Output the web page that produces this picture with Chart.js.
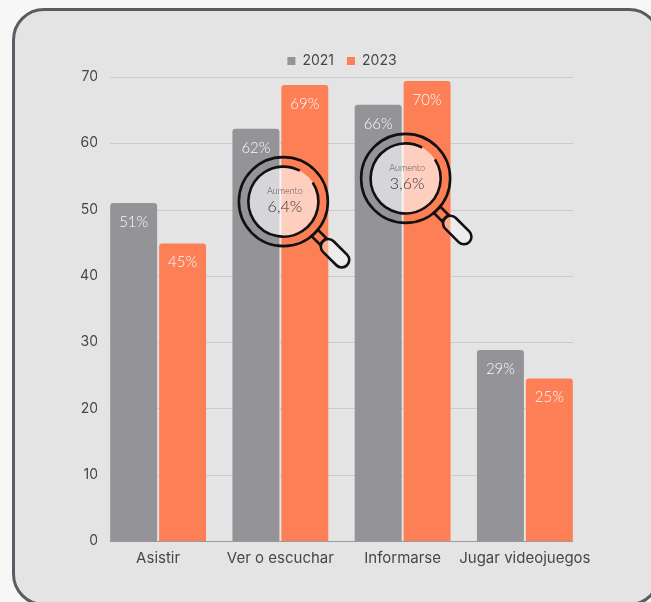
<!DOCTYPE html>
<html>
<head>
<meta charset="utf-8">
<script src="https://cdn.jsdelivr.net/npm/chart.js@4"></script>
<style>
  html, body { margin: 0; padding: 0; background: #f7f7f7; overflow: hidden; }
  #panel {
    position: absolute; left: 12px; top: 8px; width: 649px; height: 598px;
    box-sizing: border-box; background: #e4e4e4; border: 3px solid #585c63; border-radius: 32px;
  }
  #wrap { position: absolute; left: 52px; top: 40px; width: 579px; height: 535px; }
</style>
</head>
<body>
<div id="panel"></div>
<div id="wrap"><canvas id="chart"></canvas></div>
<script>
const categories = ['Asistir', 'Ver o escuchar', 'Informarse', 'Jugar videojuegos'];
const values2021 = [51, 62.2, 65.8, 28.8];
const values2023 = [44.9, 68.8, 69.4, 24.5];
const labels2021 = ['51%', '62%', '66%', '29%'];
const labels2023 = ['45%', '69%', '70%', '25%'];
const lensCategories = [1, 2];
const lensValues = ['6,4%', '3,6%'];
const lensTitle = 'Aumento';
const yTicks = [0, 10, 20, 30, 40, 50, 60, 70];

const fontName = 'Inter, Lato, sans-serif';
const thinFont = 'Lato, sans-serif';
const textColor = '#45474b';

// grid only runs from 110 to 575, narrower than the category bands
const gridPlugin = {
  id: 'shortGrid',
  afterLayout(chart) {
    // legend is centred over the plot, not over the canvas
    chart.legend.left += 23;
    chart.legend.right += 23;
    chart.legend.top += 1;
    chart.legend.bottom += 1;
  },
  beforeDatasetsDraw(chart) {
    const c = chart.ctx, y = chart.scales.y, off = 13;
    c.save();
    yTicks.forEach(t => {
      c.strokeStyle = t === 0 ? '#9a9a9e' : '#cbcbcb';
      c.lineWidth = 1;
      c.beginPath();
      c.moveTo(chart.chartArea.left + off, Math.round(y.getPixelForValue(t)) + 0.5);
      c.lineTo(chart.chartArea.right - off, Math.round(y.getPixelForValue(t)) + 0.5);
      c.stroke();
    });
    c.restore();
  }
};

const barLabelPlugin = {
  id: 'barLabels',
  afterDatasetsDraw(chart) {
    const c = chart.ctx;
    c.save();
    c.font = '300 15px ' + thinFont;
    c.fillStyle = '#fafafa';
    c.textAlign = 'center';
    c.textBaseline = 'middle';
    [labels2021, labels2023].forEach((labels, d) => {
      chart.getDatasetMeta(d).data.forEach((bar, i) => {
        c.fillText(labels[i], bar.x, bar.y + 19);
      });
    });
    c.restore();
  }
};

function drawLens(chart, x, y, value) {
  const c = chart.ctx;
  c.save();
  c.translate(x, y);
  c.fillStyle = 'rgba(255,255,255,0.62)';
  c.beginPath(); c.arc(0, 0, 35, 0, Math.PI * 2); c.fill();

  c.strokeStyle = '#111';
  c.lineWidth = 2.6;
  c.beginPath(); c.arc(0, 0, 44.5, 0, Math.PI * 2); c.stroke();
  c.beginPath(); c.arc(0, 0, 35, -33 * Math.PI / 180, -62 * Math.PI / 180); c.stroke();

  c.textAlign = 'center';
  c.textBaseline = 'middle';
  c.fillStyle = '#55555b';
  c.font = '300 9px ' + thinFont;
  c.fillText(lensTitle, 1.5, -10.5);
  c.fillStyle = '#38383e';
  c.font = '300 16px ' + thinFont;
  c.fillText(value, 1.5, 5.5);

  c.rotate(Math.PI / 4);
  c.strokeRect(44.5, -4.5, 11.5, 9);
  c.fillStyle = 'rgba(255,255,255,0.35)';
  c.beginPath(); c.roundRect(56, -7.5, 34, 15, 7.5); c.fill(); c.stroke();
  c.restore();
}

const lensPlugin = {
  id: 'lenses',
  afterDraw(chart) {
    const x = chart.scales.x, y = chart.scales.y;
    lensCategories.forEach((cat, i) => {
      // lenses sit across the gap between the two bars of the category
      const px = x.getPixelForValue(cat) + 3;
      const py = y.getPixelForValue(i === 0 ? 51.2 : 54.7);
      drawLens(chart, px, py, lensValues[i]);
    });
  }
};

new Chart(document.getElementById('chart'), {
  type: 'bar',
  data: {
    labels: categories,
    datasets: [
      { label: '2021', data: values2021, backgroundColor: '#939398' },
      { label: '2023', data: values2023, backgroundColor: '#fd7f55' }
    ]
  },
  options: {
    responsive: true,
    maintainAspectRatio: false,
    animation: false,
    datasets: {
      bar: {
        categoryPercentage: 0.8,
        barPercentage: 0.96,
        borderRadius: { topLeft: 3, topRight: 3, bottomLeft: 0, bottomRight: 0 },
        borderSkipped: false
      }
    },
    layout: { padding: { right: 45 } },
    plugins: {
      tooltip: { enabled: false },
      legend: {
        position: 'top',
        labels: {
          boxWidth: 8, boxHeight: 8, padding: 13,
          color: textColor,
          font: { family: fontName, size: 14 }
        }
      }
    },
    scales: {
      x: {
        grid: { display: false, drawTicks: false },
        border: { display: false },
        ticks: { color: textColor, font: { family: fontName, size: 15 }, padding: 8, maxRotation: 0, autoSkip: false }
      },
      y: {
        min: 0,
        max: 70,
        afterFit(scale) { scale.width = 45; },
        afterBuildTicks(scale) { scale.ticks = yTicks.map(v => ({ value: v })); },
        grid: { display: false, drawTicks: false },
        border: { display: false },
        ticks: { color: textColor, font: { family: fontName, size: 14 }, padding: -1 }
      }
    }
  },
  plugins: [gridPlugin, barLabelPlugin, lensPlugin]
});
</script>
</body>
</html>
